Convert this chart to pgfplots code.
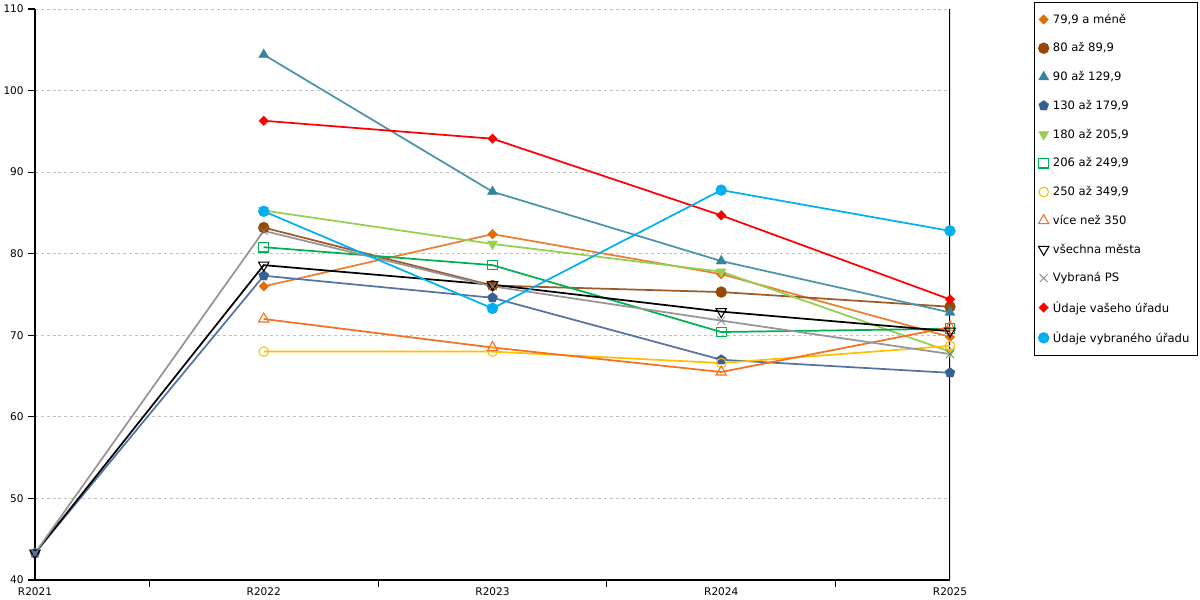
\documentclass[border=0pt]{standalone}
\usepackage{pgfplots}
\pgfplotsset{compat=1.18}
\usepackage{fontspec}
\setmainfont{DejaVu Sans}
\definecolor{c1}{HTML}{E36C09}
\definecolor{c1l}{HTML}{ED7D31}
\definecolor{c2}{HTML}{974706}
\definecolor{c2l}{HTML}{9C5A2A}
\definecolor{c3}{HTML}{31859C}
\definecolor{c3l}{HTML}{4A93A8}
\definecolor{c4}{HTML}{376092}
\definecolor{c4l}{HTML}{5473A3}
\definecolor{c5}{HTML}{92D050}
\definecolor{c6}{HTML}{00B050}
\definecolor{c7}{HTML}{FFC000}
\definecolor{c8}{HTML}{F7701E}
\definecolor{c10}{HTML}{808080}
\definecolor{c10l}{HTML}{959595}
\definecolor{c11}{HTML}{FF0000}
\definecolor{c12}{HTML}{00B0F0}
\definecolor{gridc}{HTML}{C0C0C0}
\begin{document}
\begin{tikzpicture}
\path[use as bounding box] (-26.25pt,-15pt) rectangle (873.75pt,435pt);
\begin{axis}[
  scale only axis,
  width=686.25pt, height=428.25pt,
  xmin=0, xmax=4, ymin=40, ymax=110,
  axis x line*=bottom, axis y line*=left,
  axis line style={black, line width=0.8pt, -},
  xtick={0.5,1.5,2.5,3.5},
  xticklabels={},
  extra x ticks={0,1,2,3,4},
  extra x tick labels={R2021,R2022,R2023,R2024,R2025},
  extra x tick style={major tick length=0pt, grid=none},
  ytick={40,50,...,110},
  ymajorgrids,
  grid style={gridc, dash pattern=on 2.2pt off 2.2pt, line width=0.75pt},
  tick align=outside, xtick align=outside, ytick align=outside,
  major tick length=5pt,
  x tick style={black, line width=0.8pt},
  y tick style={black, line width=0.8pt},
  ticklabel style={font=\fontsize{7.9}{9}\selectfont},
  /pgf/number format/assume math mode=true,
  x tick label style={yshift=-2pt},
  every axis plot/.append style={line width=1.3pt},
  legend image code/.code={\draw[#1,only marks] plot coordinates {(0pt,0pt)};},
  legend cell align=left,
  legend style={at={(1.0918,1.0123)}, anchor=north west, draw=black, line width=0.75pt,
    font=\fontsize{8.7}{10}\selectfont, row sep=11.1pt, inner xsep=3pt, inner ysep=7.5pt,
    nodes={inner xsep=3pt, inner ysep=1pt}},
]
\draw[black, line width=0.8pt] (rel axis cs:1,0) -- (rel axis cs:1,1);
\addplot[c1l, mark=square*, mark size=2.6pt, mark options={c1, fill=c1, rotate=45, solid, line width=0.1pt}]
  coordinates {(1,76.0)(2,82.4)(3,77.5)(4,69.8)};
\addlegendentry{79,9 a méně}
\addplot[c2l, mark=*, mark size=3.6pt, mark options={c2, fill=c2, solid}]
  coordinates {(1,83.2)(2,76.1)(3,75.3)(4,73.5)};
\addlegendentry{80 až 89,9}
\addplot[c3l, mark=triangle*, mark size=4.5pt, mark options={c3, fill=c3, solid, line width=0.1pt}]
  coordinates {(1,104.4)(2,87.6)(3,79.1)(4,72.8)};
\addlegendentry{90 až 129,9}
\addplot[c4l, mark=pentagon*, mark size=4pt, mark options={c4, fill=c4, solid, line width=0.1pt}]
  coordinates {(0,43.3)(1,77.3)(2,74.6)(3,67.0)(4,65.4)};
\addlegendentry{130 až 179,9}
\addplot[c5, mark=triangle*, mark size=4.5pt, mark options={c5, fill=c5, rotate=180, solid, line width=0.1pt}]
  coordinates {(1,85.3)(2,81.2)(3,77.8)(4,68.0)};
\addlegendentry{180 až 205,9}
\addplot[c6, mark=square, mark size=3.6pt, mark options={c6, solid, line width=0.8pt}]
  coordinates {(1,80.8)(2,78.6)(3,70.4)(4,70.8)};
\addlegendentry{206 až 249,9}
\addplot[c7, mark=o, mark size=3.6pt, mark options={c7, solid, line width=0.8pt}]
  coordinates {(1,68.0)(2,68.0)(3,66.6)(4,68.7)};
\addlegendentry{250 až 349,9}
\addplot[c8, mark=triangle, mark size=4.5pt, mark options={c8, solid, line width=0.8pt}]
  coordinates {(1,72.0)(2,68.5)(3,65.5)(4,71.0)};
\addlegendentry{více než 350}
\addplot[black, mark=triangle, mark size=4.5pt, mark options={black, rotate=180, solid, line width=0.8pt}]
  coordinates {(0,43.3)(1,78.6)(2,76.2)(3,72.9)(4,70.5)};
\addlegendentry{všechna města}
\addplot[c10l, mark=x, mark size=4.2pt, mark options={c10, solid, line width=0.6pt}]
  coordinates {(0,43.3)(1,82.8)(2,76.0)(3,71.8)(4,67.7)};
\addlegendentry{Vybraná PS}
\addplot[c11, mark=square*, mark size=2.6pt, mark options={c11, fill=c11, rotate=45, solid, line width=0.1pt}]
  coordinates {(1,96.3)(2,94.1)(3,84.7)(4,74.4)};
\addlegendentry{Údaje vašeho úřadu}
\addplot[c12, mark=*, mark size=3.6pt, mark options={c12, fill=c12, solid}]
  coordinates {(1,85.2)(2,73.3)(3,87.8)(4,82.8)};
\addlegendentry{Údaje vybraného úřadu}
\end{axis}
\end{tikzpicture}
\end{document}
